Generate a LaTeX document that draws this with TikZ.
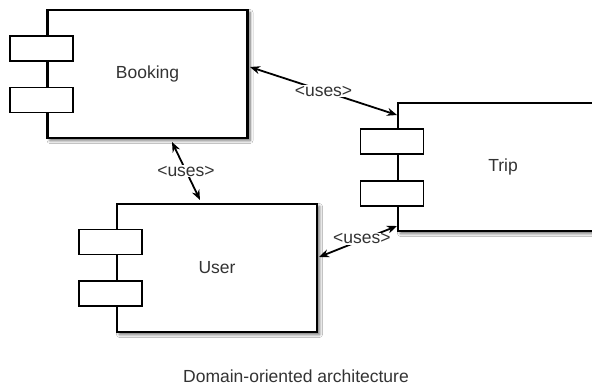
\documentclass[tikz,border=0pt]{standalone}
\usepackage{fontspec}
\setmainfont{Liberation Sans}
\usetikzlibrary{arrows.meta,shadows.blur,calc}
\begin{document}
\begin{tikzpicture}[x=1pt,y=-1pt,
  component/.style={draw=black, line width=2.2pt, fill=white,
    minimum width=200pt, minimum height=128pt, inner sep=0pt,
    font=\fontsize{17.5}{20}\selectfont, text=black!80,
    blur shadow={shadow xshift=2.5pt, shadow yshift=-2.5pt, shadow blur steps=6, shadow blur radius=3pt, shadow opacity=60}},
  port/.style={draw=black, line width=1.8pt, fill=white,
    minimum width=63pt, minimum height=25pt, inner sep=0pt},
  usesline/.style={line width=1.8pt, {Stealth[length=10pt,width=8pt]}-{Stealth[length=10pt,width=8pt]}},
  useslabel/.style={fill=white, inner sep=1pt, font=\fontsize{17.5}{20}\selectfont, text=black!80}]
\useasboundingbox[fill=white] (0,0) rectangle (592,388);

% components
\node[component] (booking) at (147.5,74) {Booking};
\node[component, minimum width=210pt] (trip) at (503,167) {Trip};
\node[component] (user) at (217,268) {User};

% ports on the left edges
\node[port] (bp1) at (41.5,48.5) {};
\node[port] (bp2) at (41.5,100) {};
\node[port] (tp1) at (392,141.5) {};
\node[port] (tp2) at (392,193.5) {};
\node[port] (up1) at (110.5,242) {};
\node[port] (up2) at (110.5,293.5) {};

% connector end points
\coordinate (bt) at (250,67);
\coordinate (tb) at (397,115);
\coordinate (bu) at (172,142);
\coordinate (ub) at (200,200);
\coordinate (ut) at (319,257);
\coordinate (tu) at (397,226);

% uses relations
\draw[usesline] (bt) -- node[useslabel] (l1) {<uses>} (tb);
\draw[usesline] (bu) -- node[useslabel] (l2) {<uses>} (ub);
\draw[usesline] (ut) -- node[useslabel, pos=0.55, yshift=1pt] (l3) {<uses>} (tu);

% caption
\node[font=\fontsize{17.5}{20}\selectfont, text=black!80] (caption) at (296,376) {Domain-oriented architecture};
\end{tikzpicture}
\end{document}
